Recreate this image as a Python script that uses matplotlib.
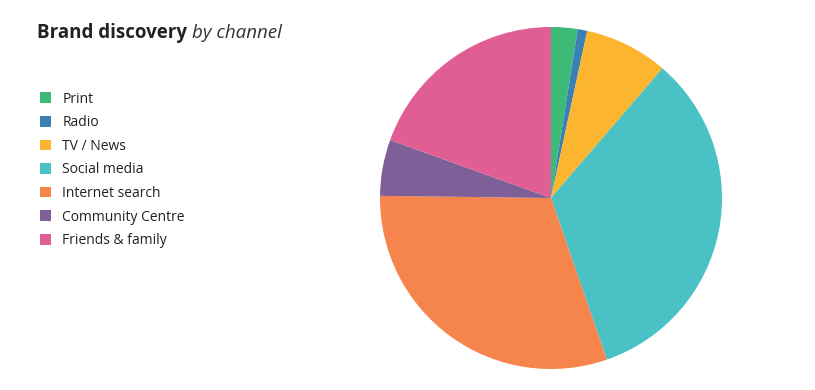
import matplotlib
matplotlib.use("Agg")
import matplotlib.pyplot as plt
from matplotlib.patches import Patch

labels = ["Print", "Radio", "TV / News", "Social media", "Internet search", "Community Centre", "Friends & family"]
values = [2.5, 0.9, 7.9, 33.4, 30.5, 5.3, 19.5]
colors = ["#3dba78", "#3a80b5", "#fcb52e", "#4ac2c5", "#f5854c", "#7f5f98", "#e15e95"]

W, H = 815, 390
fig = plt.figure(figsize=(W/100, H/100), dpi=100)
fig.patch.set_facecolor("white")

cx, cy, r = 551, 198, 171
ax = fig.add_axes([(cx - r)/W, (H - cy - r)/H, 2*r/W, 2*r/H])
wedges, _ = ax.pie(values, colors=colors, startangle=90, counterclock=False, radius=1,
                   wedgeprops=dict(linewidth=0))
ax.set_xlim(-1, 1); ax.set_ylim(-1, 1)
ax.set_aspect("equal")
ax.axis("off")

font = "Open Sans"
t1 = fig.text(37/W, 1 - 38/H, "Brand discovery", fontsize=13.5, fontweight="bold",
              family=font, color="#222222", va="baseline", ha="left")
fig.canvas.draw()
bb = t1.get_window_extent(fig.canvas.get_renderer())
fig.text((bb.x1 + 5)/W, 1 - 38/H, "by channel", fontsize=13.5, style="italic", fontweight="normal",
         family=font, color="#333333", va="baseline", ha="left")

handles = [Patch(facecolor=c, edgecolor="none") for c in colors]
leg = fig.legend(handles, labels, loc="upper left", bbox_to_anchor=(34/W, 1 - 86/H),
                 frameon=False, prop=dict(family=font, size=10), handlelength=0.8,
                 handleheight=0.8, handletextpad=0.85, labelspacing=0.62, borderaxespad=0)
for t in leg.get_texts():
    t.set_color("#222222")

fig.savefig("out.png", dpi=100, facecolor="white")
